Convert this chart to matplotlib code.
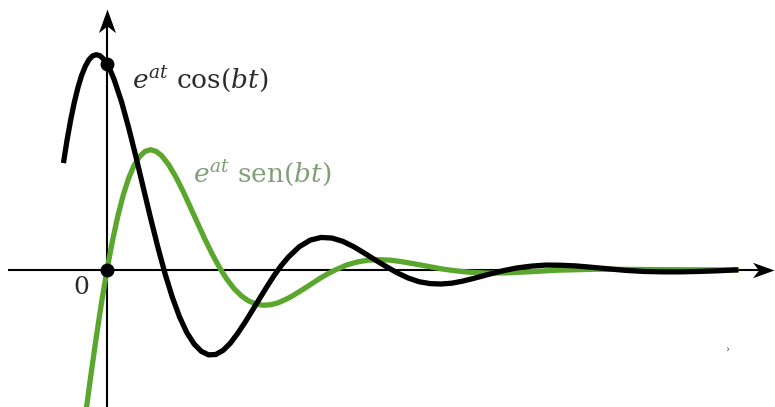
import matplotlib
matplotlib.use("Agg")
import matplotlib.pyplot as plt
from matplotlib.path import Path
from matplotlib.transforms import Affine2D

# e^{at} cos(bt): sampled (bt, value) pairs
cos_t = [-1.20, -1.10, -1.00, -0.90, -0.80, -0.70, -0.60, -0.50, -0.40, -0.30,
         -0.20, -0.10, 0.00, 0.10, 0.20, 0.40,
         0.60, 0.80, 1.00, 1.20, 1.40, 1.60, 1.80, 2.00, 2.20, 2.40,
         2.60, 2.80, 3.00, 3.20, 3.40, 3.60, 3.80, 4.00, 4.20, 4.40,
         4.60, 4.80, 5.00, 5.30, 5.60, 5.90, 6.20, 6.50, 6.80, 7.10,
         7.40, 7.70, 8.00, 8.30, 8.60, 8.90, 9.20, 9.50, 9.80, 10.10,
         10.50, 10.90, 11.30, 11.70, 12.10, 12.50, 12.90, 13.30, 13.80, 14.30,
         14.80, 15.30, 15.80, 16.30, 16.80, 17.40]
cos_v = [0.519, 0.631, 0.729, 0.814, 0.886, 0.944, 0.988, 1.020, 1.039, 1.045,
         1.041, 1.025, 1.000, 0.966, 0.923, 0.817,
         0.689, 0.548, 0.400, 0.253, 0.112, -0.018, -0.132, -0.228, -0.304, -0.359,
         -0.395, -0.412, -0.410, -0.390, -0.355, -0.308, -0.255, -0.198, -0.140, -0.083,
         -0.028, 0.021, 0.063, 0.113, 0.145, 0.158, 0.155, 0.139, 0.113, 0.081,
         0.048, 0.016, -0.014, -0.039, -0.057, -0.066, -0.068, -0.064, -0.054, -0.041,
         -0.022, -0.004, 0.010, 0.019, 0.024, 0.023, 0.020, 0.014, 0.006, -0.002,
         -0.007, -0.009, -0.009, -0.007, -0.004, 0.001]

# e^{at} sen(bt): sampled (bt, value) pairs
sin_t = [-0.58, -0.45, -0.30, -0.15, 0.00, 0.15, 0.30, 0.45, 0.60, 0.75,
         0.90, 1.05, 1.20, 1.35, 1.50, 1.70, 1.90, 2.10, 2.30, 2.50,
         2.70, 2.90, 3.10, 3.30, 3.50, 3.70, 3.90, 4.10, 4.30, 4.50,
         4.70, 4.90, 5.10, 5.30, 5.50, 5.70, 5.90, 6.10, 6.30, 6.60,
         6.90, 7.20, 7.50, 7.80, 8.10, 8.40, 8.80, 9.20, 9.60, 10.00,
         10.50, 11.00, 11.60, 12.40, 13.50, 15.00, 17.40]
sin_v = [-0.687, -0.518, -0.332, -0.158, 0.000, 0.141, 0.263, 0.365, 0.447, 0.509,
         0.551, 0.576, 0.584, 0.576, 0.556, 0.511, 0.451, 0.381, 0.304, 0.226,
         0.149, 0.077, 0.012, -0.044, -0.090, -0.125, -0.150, -0.165, -0.171, -0.169,
         -0.160, -0.145, -0.127, -0.105, -0.083, -0.060, -0.037, -0.017, 0.001, 0.024,
         0.039, 0.048, 0.050, 0.048, 0.041, 0.032, 0.019, 0.006, -0.004, -0.011,
         -0.015, -0.014, -0.009, -0.001, 0.004, 0.002, 0.000]

# marked points: cos curve at t=0 and the origin
dot_t = [0.0, 0.0]
dot_v = [1.0, 0.0]

cos_label = r"$e^{at}\ \mathrm{cos}(bt)$"
sin_label = r"$e^{at}\ \mathrm{sen}(bt)$"
origin_label = "0"

plt.rcParams["mathtext.fontset"] = "dejavuserif"
plt.rcParams["font.family"] = ["DejaVu Serif"]

fig = plt.figure(figsize=(7.75, 4.07), dpi=100)
ax = fig.add_axes([0, 0, 1, 1])
ax.set_xlim(-2.948, 18.407)
ax.set_ylim(-137 / 206, 270 / 206)
ax.axis("off")

green = "#5ba72e"
axis_lw = 1.5
curve_lw = 3.8

# coordinate axes
ax.plot([-2.73, 18.0], [0, 0], color="black", lw=axis_lw, zorder=1,
        solid_capstyle="butt")
ax.plot([0, 0], [-0.70, 1.22], color="black", lw=axis_lw, zorder=1,
        solid_capstyle="butt")

# stealth-style arrow heads
head = Path([(0, 0), (-1, 0.36), (-0.72, 0), (-1, -0.36), (0, 0)],
            [Path.MOVETO, Path.LINETO, Path.LINETO, Path.LINETO, Path.CLOSEPOLY])
head_up = head.transformed(Affine2D().rotate_deg(90))
ax.plot([18.38], [0], marker=head, markersize=31, color="black",
        markeredgewidth=0, zorder=2)
ax.plot([0], [1.265], marker=head_up, markersize=34, color="black",
        markeredgewidth=0, zorder=2)

# curves
ax.plot(sin_t, sin_v, color=green, lw=curve_lw, zorder=3,
        solid_capstyle="butt", solid_joinstyle="round")
ax.plot(cos_t, cos_v, color="black", lw=curve_lw, zorder=4,
        solid_capstyle="butt", solid_joinstyle="round")
ax.plot(dot_t, dot_v, "o", color="black", markersize=9, zorder=5)

# labels
ax.text(0.689, 0.883, cos_label, fontsize=19, color="#2b2b2b",
        ha="left", va="baseline")
ax.text(2.370, 0.427, sin_label, fontsize=19, color="#7f9f76",
        ha="left", va="baseline")
ax.text(-0.716, -0.087, origin_label, fontsize=18, color="#2b2b2b",
        ha="center", va="center")
ax.text(17.08, -0.388, "\u203a", fontsize=7, color="#2b2b2b",
        ha="center", va="center")

fig.savefig("out.png", dpi=100)
